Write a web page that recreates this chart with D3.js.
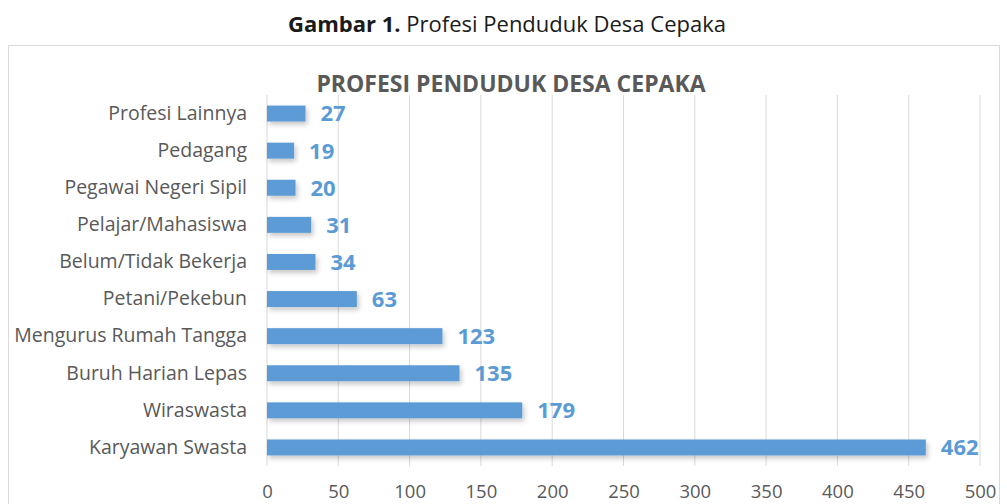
<!DOCTYPE html>
<html>
<head>
<meta charset="utf-8">
<script src="https://cdn.jsdelivr.net/npm/d3@7"></script>
<style>
  body { margin: 0; background: #fff; }
  svg { display: block; }
  text { font-family: "Open Sans", sans-serif; }
</style>
</head>
<body>
<svg id="chart" width="1007" height="504"></svg>
<script>
const categories = [
  "Profesi Lainnya",
  "Pedagang",
  "Pegawai Negeri Sipil",
  "Pelajar/Mahasiswa",
  "Belum/Tidak Bekerja",
  "Petani/Pekebun",
  "Mengurus Rumah Tangga",
  "Buruh Harian Lepas",
  "Wiraswasta",
  "Karyawan Swasta"
];
const values = [27, 19, 20, 31, 34, 63, 123, 135, 179, 462];
const xTicks = [0, 50, 100, 150, 200, 250, 300, 350, 400, 450, 500];
const captionBold = "Gambar 1.";
const captionRest = " Profesi Penduduk Desa Cepaka";
const chartTitle = "PROFESI PENDUDUK DESA CEPAKA";

const svg = d3.select("#chart");
const W = 1007, H = 504;
const margin = { left: 267, right: 27, top: 95, bottom: 38 };

const defs = svg.append("defs");
const f = defs.append("filter").attr("id", "shadow").attr("x", "-10%").attr("y", "-50%").attr("width", "130%").attr("height", "250%");
f.append("feDropShadow").attr("dx", 2).attr("dy", 3).attr("stdDeviation", 2.5).attr("flood-color", "#000").attr("flood-opacity", 0.22);

// caption
svg.append("text")
  .attr("x", 507).attr("y", 32)
  .attr("text-anchor", "middle")
  .attr("font-size", 22)
  .attr("fill", "#1a1a1a")
  .call(t => {
    t.append("tspan").attr("font-weight", "bold").text(captionBold);
    t.append("tspan").text(captionRest);
  });

// frame
svg.append("rect")
  .attr("x", 8.5).attr("y", 45.5)
  .attr("width", 991).attr("height", 470)
  .attr("fill", "none").attr("stroke", "#d9d9d9").attr("stroke-width", 1);

// chart title
svg.append("text")
  .attr("x", 511).attr("y", 91.5)
  .attr("text-anchor", "middle")
  .attr("font-size", 23)
  .attr("font-weight", "bold")
  .attr("fill", "#595959")
  .text(chartTitle);

const x = d3.scaleLinear().domain([0, 500]).range([margin.left, W - margin.right]);
const y = d3.scaleBand().domain(categories).range([margin.top, H - margin.bottom]).paddingInner(0.57).paddingOuter(0.285);

// gridlines
svg.append("g")
  .selectAll("line")
  .data(xTicks)
  .join("line")
  .attr("x1", d => x(d)).attr("x2", d => x(d))
  .attr("y1", margin.top).attr("y2", H - margin.bottom)
  .attr("stroke", "#d9d9d9").attr("stroke-width", 1);

// x axis labels
const xAxis = d3.axisBottom(x).tickValues(xTicks).tickSize(0).tickPadding(0);
const gx = svg.append("g").attr("transform", `translate(0,${H - margin.bottom + 21})`).call(xAxis);
gx.select(".domain").remove();
gx.selectAll("text").attr("font-size", 18.5).attr("fill", "#595959").attr("font-family", "Open Sans, sans-serif").attr("dy", "0.6em");

// y axis labels
const yAxis = d3.axisLeft(y).tickSize(0).tickPadding(20);
const gy = svg.append("g").attr("transform", `translate(${margin.left},0)`).call(yAxis);
gy.select(".domain").remove();
gy.selectAll("text").attr("font-size", 19.5).attr("fill", "#595959").attr("font-family", "Open Sans, sans-serif");

// bars
svg.append("g")
  .selectAll("rect")
  .data(values)
  .join("rect")
  .attr("x", x(0))
  .attr("y", (d, i) => y(categories[i]))
  .attr("width", d => x(d) - x(0))
  .attr("height", y.bandwidth())
  .attr("fill", "#5b9bd5")
  .attr("filter", "url(#shadow)");

// value labels
svg.append("g")
  .selectAll("text")
  .data(values)
  .join("text")
  .attr("x", d => x(d) + 15)
  .attr("y", (d, i) => y(categories[i]) + y.bandwidth() / 2)
  .attr("dy", "0.36em")
  .attr("font-size", 22)
  .attr("font-weight", "bold")
  .attr("fill", "#5b9bd5")
  .text(d => d);
</script>
</body>
</html>
